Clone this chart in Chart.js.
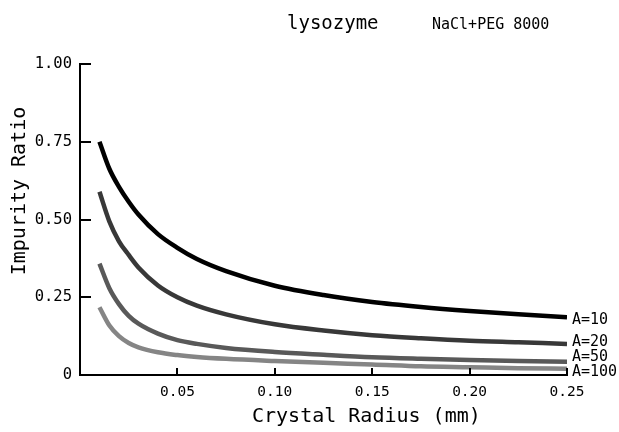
<!DOCTYPE html>
<html lang="en">
<head>
<meta charset="utf-8" />
<script src="https://cdn.jsdelivr.net/npm/chart.js@4.4.0/dist/chart.umd.min.js"></script>
<title>lysozyme NaCl+PEG 8000</title>
<style>
  html, body { margin: 0; padding: 0; background: #fff; }
</style>
</head>
<body>
<canvas id="grafico" width="619" height="432"></canvas>
<script>
  // crystal radius (mm) at which each curve was read
  var radius = [0.01, 0.015, 0.02, 0.025, 0.03, 0.04, 0.05, 0.06, 0.075, 0.1, 0.125, 0.15, 0.175, 0.2, 0.225, 0.25];

  // impurity ratio for each A
  var ratioA10 = [0.75, 0.664, 0.605, 0.557, 0.516, 0.453, 0.409, 0.373, 0.334, 0.287, 0.257, 0.235, 0.219, 0.206, 0.195, 0.186];
  var ratioA20 = [0.589, 0.495, 0.43, 0.386, 0.346, 0.288, 0.25, 0.223, 0.195, 0.163, 0.143, 0.128, 0.118, 0.11, 0.105, 0.1];
  var ratioA50 = [0.358, 0.28, 0.228, 0.19, 0.165, 0.133, 0.112, 0.1, 0.087, 0.074, 0.065, 0.057, 0.052, 0.048, 0.045, 0.043];
  var ratioA100 = [0.218, 0.16, 0.125, 0.103, 0.089, 0.073, 0.064, 0.058, 0.052, 0.045, 0.039, 0.034, 0.028, 0.025, 0.022, 0.02];

  var seriesNames = ["A=10", "A=20", "A=50", "A=100"];
  var seriesColors = ["#000000", "#383838", "#595959", "#858585"];

  var xTickLabels = ["", "0.05", "0.10", "0.15", "0.20", "0.25"];
  var yTickLabels = ["0", "0.25", "0.50", "0.75", "1.00"];

  var mono = "'DejaVu Sans Mono', monospace";

  var allSeries = [ratioA10, ratioA20, ratioA50, ratioA100];

  // inward tick marks, curve labels and the titles
  var extras = {
    id: "extras",
    afterDraw: function (chart) {
      var c = chart.ctx, a = chart.chartArea;
      var sx = chart.scales.x, sy = chart.scales.y;
      c.save();
      c.strokeStyle = "#000";
      c.lineWidth = 2;
      c.beginPath();
      sx.ticks.forEach(function (t) {
        if (t.value <= 0) return;
        var px = Math.round(sx.getPixelForValue(t.value));
        c.moveTo(px, a.bottom);
        c.lineTo(px, a.bottom - 7);
      });
      sy.ticks.forEach(function (t) {
        if (t.value <= 0) return;
        var py = Math.round(sy.getPixelForValue(t.value));
        c.moveTo(a.left, py);
        c.lineTo(a.left + 11, py);
      });
      c.stroke();

      // labels at the right end of each curve, pushed apart so they don't overlap
      c.fillStyle = "#000";
      c.font = "15px " + mono;
      c.textAlign = "left";
      c.textBaseline = "middle";
      var prev = Infinity;
      for (var i = chart.data.datasets.length - 1; i >= 0; i--) {
        var pts = chart.getDatasetMeta(i).data;
        var p = pts[pts.length - 1];
        var y = Math.min(p.y + 3, prev - 15);
        c.fillText(seriesNames[i], p.x + 5, y);
        prev = y;
      }

      // titles
      c.textBaseline = "alphabetic";
      c.font = "19px " + mono;
      c.fillText("lysozyme", 287, 29);
      c.font = "15px " + mono;
      c.fillText("NaCl+PEG 8000", 432, 29);

      c.font = "20px " + mono;
      c.fillText("Crystal Radius (mm)", 252, 422);

      c.translate(25, 191);
      c.rotate(-Math.PI / 2);
      c.textAlign = "center";
      c.fillText("Impurity Ratio", 0, 0);
      c.restore();
    },
  };

  new Chart(document.getElementById("grafico").getContext("2d"), {
    type: "line",
    data: {
      datasets: allSeries.map(function (serie, i) {
        return {
          label: seriesNames[i],
          data: radius.map(function (r, j) {
            return { x: r, y: serie[j] };
          }),
          borderColor: seriesColors[i],
          borderWidth: 4.5,
          pointRadius: 0,
          fill: false,
          cubicInterpolationMode: "monotone",
        };
      }),
    },
    options: {
      responsive: false,
      animation: false,
      layout: { padding: { top: 64, right: 52, left: 0, bottom: 0 } },
      plugins: {
        legend: { display: false },
        tooltip: { enabled: false },
      },
      scales: {
        x: {
          type: "linear",
          min: 0,
          max: 0.25,
          grid: { display: false, drawTicks: false },
          border: { display: true, color: "#000", width: 2 },
          ticks: {
            stepSize: 0.05,
            autoSkip: false,
            maxRotation: 0,
            color: "#000",
            padding: 9,
            font: { family: mono, size: 14.5 },
            callback: function (v, i) {
              return xTickLabels[i];
            },
          },
          afterFit: function (s) {
            s.height = 57;
          },
        },
        y: {
          min: 0,
          max: 1,
          grid: { display: false, drawTicks: false },
          border: { display: true, color: "#000", width: 2 },
          ticks: {
            stepSize: 0.25,
            color: "#000",
            padding: 8,
            font: { family: mono, size: 15.5 },
            callback: function (v, i) {
              return yTickLabels[i];
            },
          },
          afterFit: function (s) {
            s.width = 80;
          },
        },
      },
    },
    plugins: [extras],
  });
</script>
</body>
</html>
